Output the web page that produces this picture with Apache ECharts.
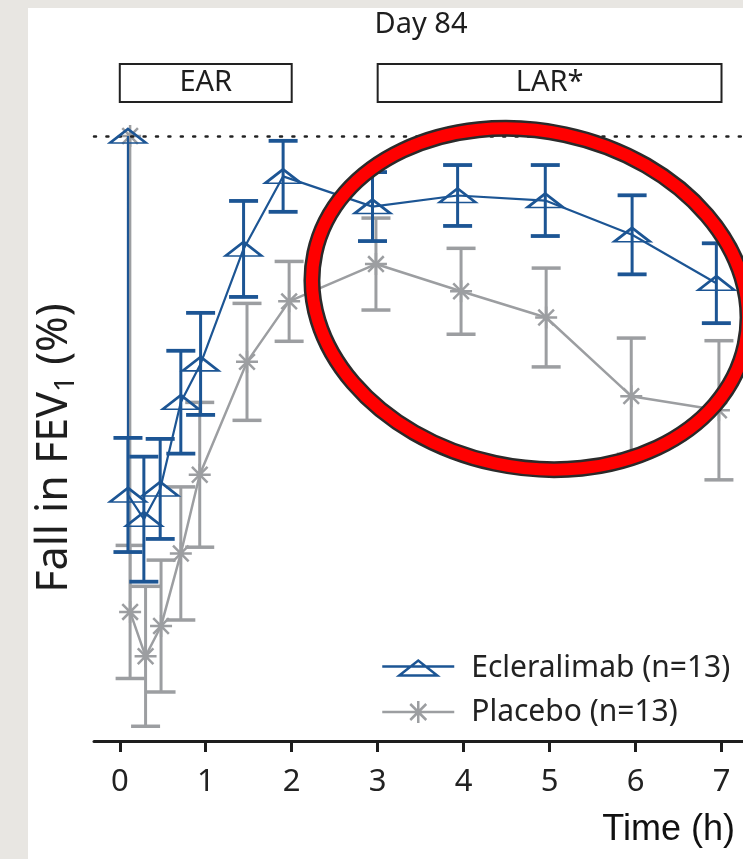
<!DOCTYPE html>
<html>
<head>
<meta charset="utf-8">
<script src="https://cdn.jsdelivr.net/npm/echarts@6/dist/echarts.min.js"></script>
<style>
  html, body { margin: 0; padding: 0; width: 743px; height: 859px; background: #e8e6e2; overflow: hidden; }
  #panel { position: absolute; left: 28px; top: 8px; width: 715px; height: 851px; background: #ffffff; }
  #chart { position: absolute; left: 0; top: 0; width: 743px; height: 859px; }
</style>
</head>
<body>
<div id="panel"></div>
<div id="chart"></div>
<script>
// ---- data ----
const xTicks = [0, 1, 2, 3, 4, 5, 6, 7];

const eclName = 'Ecleralimab (n=13)';
const eclTime = [0.095, 0.095, 0.28, 0.47, 0.71, 0.94, 1.44, 1.90, 2.94, 3.93, 4.95, 5.96, 6.94];
const eclMean = [0, -17.8, -19.0, -17.5, -13.2, -11.3, -5.6, -2.0, -3.5, -2.95, -3.2, -4.9, -7.3];
const eclErr  = [0, 2.83, 3.10, 2.48, 2.55, 2.53, 2.38, 1.76, 1.71, 1.51, 1.76, 1.96, 1.98];

const plcName = 'Placebo (n=13)';
const plcTime = [0.12, 0.12, 0.30, 0.48, 0.71, 0.93, 1.48, 1.97, 2.98, 3.97, 4.96, 5.95, 6.97];
const plcMean = [0, -23.6, -25.8, -24.3, -20.7, -16.8, -11.2, -8.2, -6.35, -7.7, -9.0, -12.9, -13.6];
const plcErr  = [0, 3.30, 3.47, 3.27, 3.30, 3.59, 2.90, 1.98, 2.28, 2.13, 2.45, 2.88, 3.45];

const phaseNames = ['EAR', 'LAR*'];
const phaseStart = [0, 3];
const phaseEnd   = [2, 7];

// ---- styling ----
const BLUE = '#1c5594';
const GREY = '#9c9ea1';
const INK = '#1e1e1e';
const asteriskPath = 'path://M10,0 L10,20 M0,10 L20,10 M2.9,2.9 L17.1,17.1 M2.9,17.1 L17.1,2.9';

function zip3(a, b, c) { return a.map((v, i) => [v, b[i], c[i]]); }

function errRenderer(color, vw, cw) {
  return function (params, api) {
    const x = api.value(0), y = api.value(1), e = api.value(2);
    if (!e) return null;
    const top = api.coord([x, y + e]);
    const bot = api.coord([x, y - e]);
    const hw = 14.5;
    return {
      type: 'group',
      children: [
        { type: 'line', shape: { x1: top[0], y1: top[1], x2: bot[0], y2: bot[1] }, style: { stroke: color, lineWidth: vw } },
        { type: 'line', shape: { x1: top[0] - hw, y1: top[1], x2: top[0] + hw, y2: top[1] }, style: { stroke: color, lineWidth: cw } },
        { type: 'line', shape: { x1: bot[0] - hw, y1: bot[1], x2: bot[0] + hw, y2: bot[1] }, style: { stroke: color, lineWidth: cw } }
      ]
    };
  };
}

const chart = echarts.init(document.getElementById('chart'), null, { renderer: 'canvas' });

const option = {
  animation: false,
  backgroundColor: 'transparent',
  grid: { left: 94, top: 136, width: 650, height: 605, containLabel: false },
  xAxis: {
    type: 'value', min: -0.3, max: 7.25,
    axisLine: { show: true, onZero: false, lineStyle: { color: INK, width: 3 } },
    axisTick: { show: true, length: 11, lineStyle: { color: INK, width: 3 }, customValues: xTicks },
    axisLabel: { show: true, customValues: xTicks, margin: 26, fontSize: 31, color: '#222', fontFamily: 'Noto Sans' },
    splitLine: { show: false }
  },
  yAxis: {
    type: 'value', min: -30, max: 0,
    axisLine: { show: false }, axisTick: { show: false }, axisLabel: { show: false }, splitLine: { show: false }
  },
  legend: {
    orient: 'vertical', left: 376, top: 643,
    itemWidth: 72, itemHeight: 22, itemGap: 4,
    selectedMode: false,
    textStyle: { fontFamily: 'Noto Sans', fontSize: 30, color: '#222', lineHeight: 40, padding: [0, 0, 0, 12] },
    data: [
      { name: eclName, icon: 'path://M0,6 L72,6 M17,15 L36,0 L55,15 Z',
        itemStyle: { color: 'rgba(0,0,0,0)', borderColor: BLUE, borderWidth: 2.5 } },
      { name: plcName, icon: 'path://M0,11 L72,11 M36,0 L36,22 M26,11 L46,11 M28,3 L44,19 M28,19 L44,3',
        itemStyle: { color: 'rgba(0,0,0,0)', borderColor: GREY, borderWidth: 2.5 } }
    ]
  },
  graphic: [
    { type: 'text', x: 421, y: 25, style: { text: 'Day 84', font: '29px "Noto Sans"', fill: '#1e1e1e', align: 'center', verticalAlign: 'middle' } },
    { type: 'text', x: 55, y: 448, rotation: Math.PI / 2,
      style: { text: '{a|Fall in FEV}{s|1}{a| (%)}', align: 'center', verticalAlign: 'middle',
        rich: {
          a: { fontFamily: 'Noto Sans', fontSize: 43, lineHeight: 50, fill: '#1e1e1e' },
          s: { fontFamily: 'Noto Sans', fontSize: 28, lineHeight: 28, fill: '#1e1e1e', verticalAlign: 'bottom' }
        } } },
    { type: 'text', right: 8, top: 812, style: { text: 'Time (h)', font: '36px "Liberation Sans"', fill: '#111' } },
    { type: 'ellipse', x: 530, y: 299, rotation: -0.21, z: 100, silent: true,
      shape: { cx: 0, cy: 0, rx: 220, ry: 168 }, style: { fill: 'none', stroke: '#2a2a2a', lineWidth: 17 } },
    { type: 'ellipse', x: 530, y: 299, rotation: -0.21, z: 101, silent: true,
      shape: { cx: 0, cy: 0, rx: 220, ry: 168 }, style: { fill: 'none', stroke: '#ff0000', lineWidth: 12 } }
  ],
  series: [
    {
      type: 'custom', name: 'plcErr', silent: true, z: 2,
      renderItem: errRenderer(GREY, 3, 3.5),
      encode: { x: 0, y: 1 },
      data: zip3(plcTime, plcMean, plcErr)
    },
    {
      type: 'line', name: plcName, z: 3, clip: false,
      data: plcTime.map((t, i) => [t, plcMean[i]]),
      symbol: asteriskPath, symbolSize: 22,
      itemStyle: { color: 'rgba(0,0,0,0)', borderColor: GREY, borderWidth: 2.5 },
      lineStyle: { color: GREY, width: 2.5 },
      emphasis: { disabled: true }
    },
    {
      type: 'custom', name: 'eclErr', silent: true, z: 4,
      renderItem: errRenderer(BLUE, 3, 3.8),
      encode: { x: 0, y: 1 },
      data: zip3(eclTime, eclMean, eclErr)
    },
    {
      type: 'line', name: eclName, z: 5, clip: false,
      data: eclTime.map((t, i) => [t, eclMean[i]]),
      symbol: 'triangle', symbolSize: [36, 14],
      itemStyle: { color: 'rgba(0,0,0,0)', borderColor: BLUE, borderWidth: 2.5 },
      lineStyle: { color: BLUE, width: 2.2 },
      emphasis: { disabled: true },
      markLine: {
        silent: true, symbol: 'none', animation: false,
        label: { show: false },
        lineStyle: { type: [2, 10.4], color: '#222', width: 2.5, cap: 'round' },
        data: [{ yAxis: 0 }]
      }
    },
    {
      type: 'custom', name: 'phases', silent: true, z: 6,
      encode: { x: [0, 1] },
      data: phaseStart.map((s, i) => [s, phaseEnd[i], i]),
      renderItem: function (params, api) {
        const x1 = api.coord([api.value(0), 0])[0];
        const x2 = api.coord([api.value(1), 0])[0];
        const label = phaseNames[api.value(2)];
        return {
          type: 'group',
          children: [
            { type: 'rect', shape: { x: x1, y: 64, width: x2 - x1, height: 38 }, style: { fill: '#ffffff', stroke: '#222', lineWidth: 2 } },
            { type: 'text', x: (x1 + x2) / 2, y: 83, style: { text: label, font: '29px "Noto Sans"', fill: '#1e1e1e', align: 'center', verticalAlign: 'middle' } }
          ]
        };
      }
    }
  ]
};

chart.setOption(option);
</script>
</body>
</html>
